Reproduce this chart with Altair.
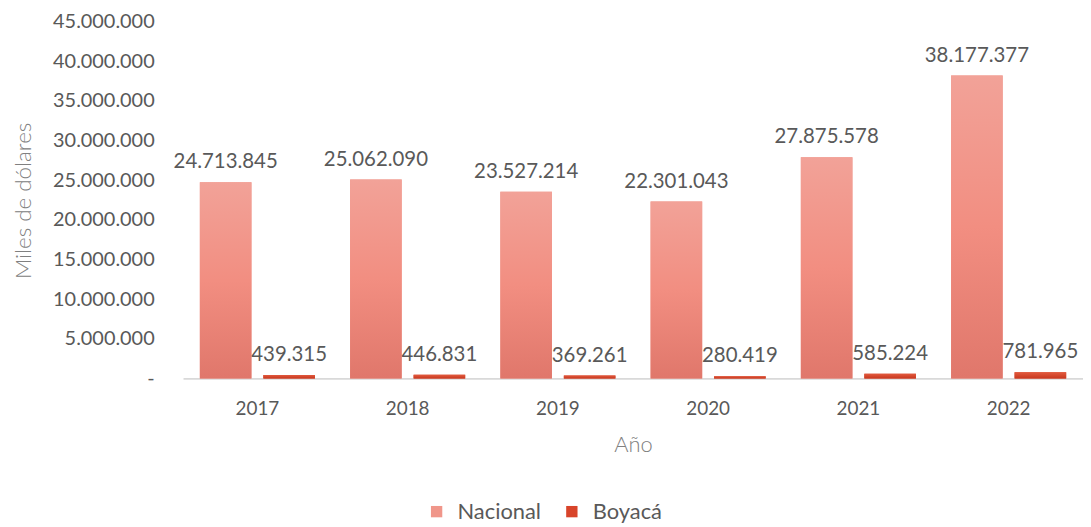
import altair as alt
import pandas as pd

years = ["2017", "2018", "2019", "2020", "2021", "2022"]
nacional = [24713845, 25062090, 23527214, 22301043, 27875578, 38177377]
boyaca = [439315, 446831, 369261, 280419, 585224, 781965]
series = ["Nacional", "Boyacá"]
y_ticks = [0, 5000000, 10000000, 15000000, 20000000, 25000000, 30000000, 35000000, 40000000, 45000000]

rows = []
for y, n, b in zip(years, nacional, boyaca):
    rows.append({"Año": y, "Serie": "Nacional", "Valor": n})
    rows.append({"Año": y, "Serie": "Boyacá", "Valor": b})
df = pd.DataFrame(rows)

FONT = "Lato"
DARK = "#595959"
LIGHT = "#808080"
FMT = "replace(replace(format({v}, ','), ',', '.'), ',', '.')"

x_enc = alt.X("Año:N", sort=years,
              scale=alt.Scale(paddingInner=0.234, paddingOuter=0.112),
              axis=alt.Axis(title="Año", labelAngle=0, labelFont=FONT, labelFontSize=19,
                            labelColor=DARK, labelPadding=21, ticks=False,
                            domainColor="#D9D9D9", domainWidth=2,
                            titleFont=FONT, titleFontSize=22, titleFontWeight=300,
                            titleColor=LIGHT, titlePadding=17))
y_enc = alt.Y("Valor:Q", scale=alt.Scale(domain=[0, 45000000], nice=False),
              axis=alt.Axis(title="Miles de dólares", values=y_ticks, grid=False,
                            domain=False, ticks=False, labelFont=FONT, labelFontSize=20,
                            labelColor=DARK, labelPadding=29, labelOverlap=False,
                            labelBound=False, labelFlush=False,
                            labelExpr="datum.value == 0 ? '-\u00a0\u00a0\u00a0' : " + FMT.format(v="datum.value"),
                            titleFont=FONT, titleFontSize=22.5, titleFontWeight=300,
                            titleColor=LIGHT, titleAngle=-90, titleX=-160, titleY=180,
                            titleAlign="center", titleBaseline="middle"))
xo = alt.XOffset("Serie:N", sort=series, scale=alt.Scale(paddingInner=0.1875, paddingOuter=0))

base = alt.Chart(df)

bars = base.mark_bar().encode(
    x=x_enc, y=y_enc, xOffset=xo,
    color=alt.Color("Serie:N", sort=series,
                    scale=alt.Scale(domain=series, range=["#F0968A", "#D8442A"]),
                    legend=alt.Legend(title=None, orient="none", direction="horizontal",
                                      legendX=244, legendY=482, symbolType="square",
                                      symbolSize=130, symbolStrokeWidth=0,
                                      labelFont=FONT, labelFontSize=22, labelColor=DARK,
                                      columnPadding=19, labelOffset=10)),
)

grad_nac = alt.Gradient(gradient="linear", x1=0, y1=0, x2=0, y2=1,
                        stops=[alt.GradientStop(color="#F2A298", offset=0),
                               alt.GradientStop(color="#F28E81", offset=0.5),
                               alt.GradientStop(color="#E0776B", offset=1)])
grad_boy = alt.Gradient(gradient="linear", x1=0, y1=0, x2=0, y2=1,
                        stops=[alt.GradientStop(color="#E25A3E", offset=0),
                               alt.GradientStop(color="#C8381F", offset=1)])

nac_bars = base.transform_filter(alt.datum.Serie == "Nacional").mark_bar(color=grad_nac).encode(
    x=x_enc, y=y_enc, xOffset=xo)
boy_bars = base.transform_filter(alt.datum.Serie == "Boyacá").mark_bar(color=grad_boy).encode(
    x=x_enc, y=y_enc, xOffset=xo)

labels = base.transform_calculate(
    lbl=FMT.format(v="datum.Valor")
).mark_text(font=FONT, fontSize=20.5, color=DARK, baseline="alphabetic", dy=-14).encode(
    x=x_enc, y=y_enc, xOffset=xo, text="lbl:N")

chart = alt.layer(bars, nac_bars, boy_bars, labels).properties(
    width=905, height=359,
    autosize=alt.AutoSizeParams(type="none"),
    padding={"left": 176, "top": 12, "right": 0, "bottom": 148},
).configure_view(stroke=None)

chart.save("out.html", embed_options={"renderer": "svg", "actions": False})
